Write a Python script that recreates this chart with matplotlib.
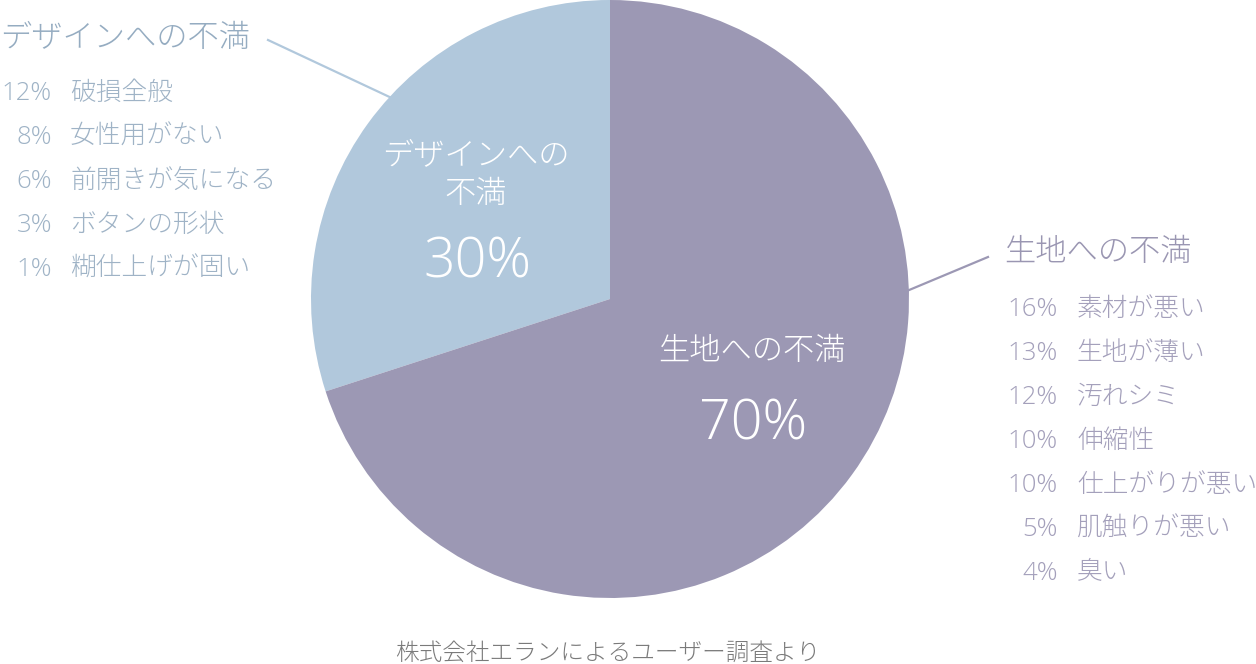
import numpy as np
import matplotlib.pyplot as plt

plt.rcParams['font.family'] = ['Open Sans', 'Noto Sans CJK JP', 'DejaVu Sans']

# data
groups = ['デザインへの不満', '生地への不満']
shares = [30, 70]
colors = ['#b1c8dc', '#9c98b4']

design_pct = [12, 8, 6, 3, 1]
design_items = ['破損全般', '女性用がない', '前開きが気になる', 'ボタンの形状', '糊仕上げが固い']
fabric_pct = [16, 13, 12, 10, 10, 5, 4]
fabric_items = ['素材が悪い', '生地が薄い', '汚れシミ', '伸縮性', '仕上がりが悪い', '肌触りが悪い', '臭い']

source = '株式会社エランによるユーザー調査より'

W, H = 1256, 664
fig = plt.figure(figsize=(W / 100, H / 100), dpi=100)
ax = fig.add_axes([0, 0, 1, 1])

def Y(py):
    # picture rows -> data y
    return H - py

cx, cy, r = 610, Y(299), 299
ax.pie(shares, colors=colors, startangle=90, counterclock=True,
       center=(cx, cy), radius=r, wedgeprops=dict(linewidth=0))
ax.set_xlim(0, W)
ax.set_ylim(0, H)
ax.set_aspect('equal')
ax.axis('off')

# labels inside the slices
ax.text(476, Y(156), 'デザインへの', color='white', fontsize=22.5, fontweight='light', ha='center', va='center')
ax.text(476, Y(195), '不満', color='white', fontsize=22.5, fontweight='light', ha='center', va='center')
ax.text(477, Y(263), f'{shares[0]}%', color='white', fontsize=40, fontweight='light', ha='center', va='center')
ax.text(752, Y(352), groups[1], color='white', fontsize=22.5, fontweight='light', ha='center', va='center')
ax.text(753, Y(425), f'{shares[1]}%', color='white', fontsize=40, fontweight='light', ha='center', va='center')

# leader lines
def edge(angle):
    a = np.radians(angle)
    return cx + r * np.cos(a), cy + r * np.sin(a)

ex, ey = edge(137.5)
ax.plot([268, ex], [Y(40), ey], color='#b1c8dc', lw=1.6)
ex, ey = edge(1.7)
ax.plot([988, ex], [Y(257), ey], color='#9c98b4', lw=1.6)

# left breakdown
ax.text(0, Y(39), groups[0], color='#95acc1', fontsize=22.5, fontweight='light', ha='left', va='center')
for i, (p, t) in enumerate(zip(design_pct, design_items)):
    y = Y(93 + 44 * i)
    ax.text(52, y, f'{p}%', color='#9fb3c6', fontsize=18.5, fontweight='light', ha='right', va='center')
    ax.text(70, y, t, color='#9fb3c6', fontsize=18.5, fontweight='light', ha='left', va='center')

# right breakdown
ax.text(1004, Y(253), groups[1], color='#9a96b2', fontsize=22.5, fontweight='light', ha='left', va='center')
for i, (p, t) in enumerate(zip(fabric_pct, fabric_items)):
    y = Y(309 + 44 * i)
    ax.text(1058, y, f'{p}%', color='#a4a0bb', fontsize=18.5, fontweight='light', ha='right', va='center')
    ax.text(1077, y, t, color='#a4a0bb', fontsize=18.5, fontweight='light', ha='left', va='center')

ax.text(608, Y(654), source, color='#7a7a7a', fontsize=17, fontweight='light', ha='center', va='center')

fig.savefig('out.png', dpi=100)
